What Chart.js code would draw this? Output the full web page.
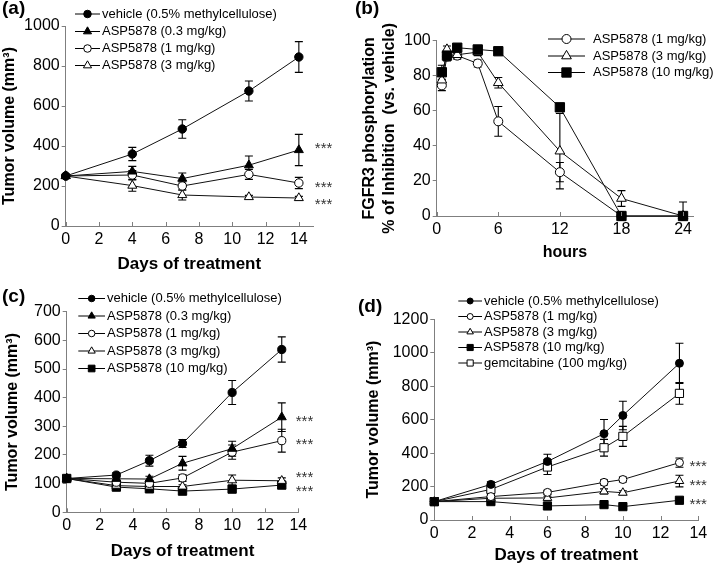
<!DOCTYPE html>
<html><head><meta charset="utf-8">
<script src="https://cdn.jsdelivr.net/npm/chart.js@4.4.0/dist/chart.umd.min.js"></script>
<style>
html,body{margin:0;padding:0;background:#fff;}
#wrap{position:relative;width:715px;height:566px;overflow:hidden;}
#wrap canvas{position:absolute;left:0;top:0;}
</style></head><body>
<div id="wrap">
<canvas id="ca" width="715" height="566"></canvas>
<canvas id="cb" width="715" height="566"></canvas>
<canvas id="cc" width="715" height="566"></canvas>
<canvas id="cd" width="715" height="566"></canvas>
</div>
<script>
// ---------------- Panel (a) data ----------------
const aDays = [0, 4, 7, 11, 14];
const aVehicle = [250, 360, 485, 675, 845];
const aVehicleErr = [0, 33, 46, 50, 77];
const aDose03 = [250, 273, 237, 304, 380];
const aDose03Err = [0, 25, 28, 46, 78];
const aDose1 = [250, 255, 200, 258, 215];
const aDose1Err = [0, 22, 20, 25, 28];
const aDose3 = [250, 202, 155, 145, 140];
const aDose3Err = [0, 28, 25, 8, 8];
const aXTicks = [0, 2, 4, 6, 8, 10, 12, 14];
const aYTicks = [0, 200, 400, 600, 800, 1000];

// ---------------- Panel (b) data ----------------
const bHours = [0.5, 1, 2, 4, 6, 12, 18, 24];
const bDose1 = [74.5, 91, 91.5, 87, 54, 25, 0, 0];
const bDose1Err = [3, 2, 2, 2, 8.5, 5.5, 0, 0];
const bDose3 = [77.5, 95, 92, 93.5, 76, 37, 10, 0];
const bDose3Err = [3, 2, 2, 2, 3, 21.5, 4.5, 0];
const bDose10 = [82, 91.5, 96, 95, 94, 62, 0, 0];
const bDose10Err = [4, 3, 1, 1, 1, 2, 0, 8];
const bXTicks = [0, 6, 12, 18, 24];
const bYTicks = [0, 20, 40, 60, 80, 100];

// ---------------- Panel (c) data ----------------
const cDays = [0, 3, 5, 7, 10, 13];
const cVehicle = [118, 130, 180, 240, 418, 568];
const cVehicleErr = [0, 8, 19, 14, 42, 44];
const cDose03 = [118, 117, 116, 171, 222, 332];
const cDose03Err = [0, 8, 10, 24, 26, 50];
const cDose1 = [118, 105, 101, 120, 210, 250];
const cDose1Err = [0, 8, 8, 12, 25, 40];
const cDose3 = [118, 93, 90, 90, 112, 110];
const cDose3Err = [0, 8, 6, 6, 18, 10];
const cDose10 = [118, 88, 82, 74, 81, 95];
const cDose10Err = [0, 8, 5, 6, 6, 5];
const cXTicks = [0, 2, 4, 6, 8, 10, 12, 14];
const cYTicks = [0, 100, 200, 300, 400, 500, 600, 700];

// ---------------- Panel (d) data ----------------
const dDays = [0, 3, 6, 9, 10, 13];
const dVehicle = [110, 213, 350, 516, 625, 937];
const dVehicleErr = [0, 15, 43, 85, 85, 120];
const dDose1 = [110, 140, 165, 225, 242, 343];
const dDose1Err = [0, 10, 12, 15, 15, 28];
const dDose3 = [110, 130, 132, 171, 163, 233];
const dDose3Err = [0, 10, 10, 15, 12, 35];
const dDose10 = [110, 110, 84, 92, 80, 118];
const dDose10Err = [0, 8, 8, 8, 8, 10];
const dGem = [110, 183, 317, 432, 500, 757];
const dGemErr = [0, 15, 45, 50, 60, 65];
const dXTicks = [0, 2, 4, 6, 8, 10, 12, 14];
const dYTicks = [0, 200, 400, 600, 800, 1000, 1200];

const LBL_VEH = 'vehicle (0.5% methylcellulose)';
const LBL_03 = 'ASP5878 (0.3 mg/kg)';
const LBL_1 = 'ASP5878 (1 mg/kg)';
const LBL_3 = 'ASP5878 (3 mg/kg)';
const LBL_10 = 'ASP5878 (10 mg/kg)';
const LBL_GEM = 'gemcitabine (100 mg/kg)';

// ---------------- styling / helpers ----------------
const FONT = '"Liberation Sans", Arial, Helvetica, sans-serif';
Chart.defaults.font.family = FONT;
const AXIS = '#7f7f7f';

function series(label, xs, ys, err, style, sizes, order) {
  const shape = {c: 'circle', t: 'triangle', s: 'rect'}[style[1]];
  const filled = style[0] === 'f';
  return {
    label, err, order: order || 0,
    data: xs.map((x, i) => ({x: x, y: ys[i]})),
    pointStyle: shape,
    pointRadius: sizes[shape], pointHoverRadius: sizes[shape],
    pointBackgroundColor: filled ? '#000' : '#fff',
    pointBorderColor: '#000', pointBorderWidth: 1,
    borderColor: '#111', borderWidth: 1, tension: 0, fill: false,
    showLine: true, clip: false
  };
}

function drawMarker(ctx, shape, filled, x, y, r) {
  ctx.beginPath();
  if (shape === 'circle') {
    ctx.arc(x, y, r, 0, Math.PI * 2);
  } else if (shape === 'triangle') {
    for (let k = 0; k < 3; k++) {
      const a = k * 2 * Math.PI / 3;
      const px = x + Math.sin(a) * r, py = y - Math.cos(a) * r;
      if (k === 0) ctx.moveTo(px, py); else ctx.lineTo(px, py);
    }
    ctx.closePath();
  } else {
    const s = r * Math.SQRT1_2;
    ctx.rect(x - s, y - s, 2 * s, 2 * s);
  }
  ctx.fillStyle = filled ? '#000' : '#fff';
  ctx.fill();
  ctx.lineWidth = 1; ctx.strokeStyle = '#000';
  ctx.stroke();
}

const figPlugin = {
  id: 'fig',
  beforeDatasetsDraw(chart) {
    const ctx = chart.ctx, xs = chart.scales.x, ys = chart.scales.y;
    ctx.save();
    ctx.strokeStyle = '#000'; ctx.lineWidth = 1.1;
    chart.data.datasets.forEach(ds => {
      if (!ds.err) return;
      ds.data.forEach((p, i) => {
        const e = ds.err[i];
        if (!e) return;
        const px = xs.getPixelForValue(p.x);
        const hi = ys.getPixelForValue(p.y + e);
        const loV = p.y - e;
        const lo = ys.getPixelForValue(Math.max(loV, ys.min));
        ctx.beginPath();
        ctx.moveTo(px, hi); ctx.lineTo(px, lo);
        ctx.moveTo(px - 4, hi); ctx.lineTo(px + 4, hi);
        if (loV >= ys.min) { ctx.moveTo(px - 4, lo); ctx.lineTo(px + 4, lo); }
        ctx.stroke();
      });
    });
    ctx.restore();
  },
  afterDraw(chart, args, o) {
    const ctx = chart.ctx, xs = chart.scales.x, ys = chart.scales.y;
    ctx.save();
    // inward x tick marks
    ctx.strokeStyle = AXIS; ctx.lineWidth = 1;
    ctx.beginPath();
    xs.ticks.forEach(t => {
      const px = Math.round(xs.getPixelForValue(t.value)) + 0.5;
      ctx.moveTo(px, xs.top); ctx.lineTo(px, xs.top - 4);
    });
    ctx.stroke();
    // significance stars
    if (o.stars) {
      ctx.fillStyle = '#333'; ctx.font = '15px ' + FONT;
      ctx.textBaseline = 'alphabetic'; ctx.textAlign = 'left';
      o.stars.items.forEach(s => {
        const ds = chart.data.datasets[s.ds];
        const last = ds.data[ds.data.length - 1];
        const px = xs.getPixelForValue(last.x) + o.stars.dx;
        const py = ys.getPixelForValue(last.y) + (s.dy || 0);
        ctx.fillText('***', px, py + 8.6);
      });
    }
    // legend
    const L = o.legend;
    ctx.font = '13px ' + FONT; ctx.fillStyle = '#000';
    ctx.textBaseline = 'middle'; ctx.textAlign = 'left';
    chart.data.datasets.forEach((ds, i) => {
      const y = L.rows[i];
      ctx.strokeStyle = '#000'; ctx.lineWidth = 1;
      ctx.beginPath(); ctx.moveTo(L.x0, y); ctx.lineTo(L.x1, y); ctx.stroke();
      drawMarker(ctx, ds.pointStyle, ds.pointBackgroundColor === '#000', (L.x0 + L.x1) / 2, y, ds.pointRadius * L.scale);
      ctx.fillStyle = '#000';
      ctx.fillText(ds.label, L.tx, y);
    });
    // panel label
    ctx.font = 'bold 19px ' + FONT; ctx.fillStyle = '#000';
    ctx.textBaseline = 'alphabetic';
    ctx.fillText(o.panel.text, o.panel.x, o.panel.y);
    ctx.restore();
  }
};

function makeChart(id, datasets, p) {
  const tickFont = {family: FONT, size: 16};
  return new Chart(document.getElementById(id), {
    type: 'line',
    data: {datasets},
    options: {
      responsive: false, animation: false, devicePixelRatio: 1,
      layout: {padding: {left: p.boxLeft, top: p.top, right: 715 - p.right, bottom: Math.max(0, 566 - p.bottom - p.xH)}},
      plugins: {legend: {display: false}, tooltip: {enabled: false}, fig: p.fig},
      scales: {
        x: {
          type: 'linear', min: 0, max: p.xMax,
          afterBuildTicks: s => { s.ticks = p.xTicks.map(v => ({value: v})); },
          afterFit: s => { s.height = p.xH; },
          grid: {display: false, drawTicks: false, tickLength: 0},
          border: {display: true, color: AXIS, width: 1},
          ticks: {font: tickFont, color: '#000', padding: 4, maxRotation: 0, autoSkip: false, callback: v => String(v)},
          title: {display: true, text: p.xTitle, color: '#000', padding: 0, font: {family: FONT, size: p.xTitleSize, weight: 'bold'}}
        },
        y: {
          type: 'linear', min: 0, max: p.yTicks[p.yTicks.length - 1],
          afterBuildTicks: s => { s.ticks = p.yTicks.map(v => ({value: v})); },
          afterFit: s => { s.width = p.right0 - p.boxLeft; },
          grid: {display: true, drawOnChartArea: false, drawTicks: true, tickLength: 4, color: AXIS},
          border: {display: true, color: AXIS, width: 1},
          ticks: {font: tickFont, color: '#000', padding: 2, autoSkip: false, callback: v => String(v)},
          title: {display: true, text: p.yTitle, color: '#000', padding: 0, font: {family: FONT, size: 16, weight: 'bold'}}
        }
      }
    },
    plugins: [figPlugin]
  });
}

// ---------- (a) ----------
const sizeA = {circle: 4.2, triangle: 5.2, rect: 5.8};
makeChart('ca', [
  series(LBL_VEH, aDays, aVehicle, aVehicleErr, 'fc', sizeA, 0),
  series(LBL_03, aDays, aDose03, aDose03Err, 'ft', sizeA, 1),
  series(LBL_1, aDays, aDose1, aDose1Err, 'oc', sizeA, 2),
  series(LBL_3, aDays, aDose3, aDose3Err, 'ot', sizeA, 3)
], {
  boxLeft: 0.4, right0: 65.7, top: 26, right: 313, bottom: 226, xH: 48.6,
  xMax: 14.85, xTicks: aXTicks, yTicks: aYTicks,
  xTitle: 'Days of treatment', xTitleSize: 17, yTitle: 'Tumor volume (mm³)',
  fig: {
    panel: {text: '(a)', x: 2, y: 14},
    legend: {x0: 75, x1: 100, tx: 102, rows: [14, 31.5, 48.5, 65.5], scale: 0.9},
    stars: {dx: 16, items: [{ds: 1, dy: -6}, {ds: 2, dy: 0}, {ds: 3, dy: 2}]}
  }
});

// ---------- (b) ----------
const sizeB = {circle: 4.5, triangle: 5.6, rect: 6.6};
makeChart('cb', [
  series(LBL_1, bHours, bDose1, bDose1Err, 'oc', sizeB, 2),
  series(LBL_3, bHours, bDose3, bDose3Err, 'ot', sizeB, 1),
  series(LBL_10, bHours, bDose10, bDose10Err, 'fs', sizeB, 0)
], {
  boxLeft: 360.4, right0: 436.7, top: 40.7, right: 693.3, bottom: 216, xH: 46.6,
  xMax: 25, xTicks: bXTicks, yTicks: bYTicks,
  xTitle: 'hours', xTitleSize: 16, yTitle: ['FGFR3 phosphorylation', '% of Inhibition  (vs. vehicle)'],
  fig: {
    panel: {text: '(b)', x: 355, y: 14},
    legend: {x0: 548, x1: 585, tx: 593, rows: [39, 56, 72.5], scale: 1}
  }
});

// ---------- (c) ----------
const sizeC = {circle: 4.1, triangle: 5.2, rect: 5.9};
makeChart('cc', [
  series(LBL_VEH, cDays, cVehicle, cVehicleErr, 'fc', sizeC, 0),
  series(LBL_03, cDays, cDose03, cDose03Err, 'ft', sizeC, 1),
  series(LBL_1, cDays, cDose1, cDose1Err, 'oc', sizeC, 2),
  series(LBL_3, cDays, cDose3, cDose3Err, 'ot', sizeC, 3),
  series(LBL_10, cDays, cDose10, cDose10Err, 'fs', sizeC, 4)
], {
  boxLeft: 3.4, right0: 66.7, top: 311.7, right: 298.3, bottom: 512.3, xH: 49,
  xMax: 14, xTicks: cXTicks, yTicks: cYTicks,
  xTitle: 'Days of treatment', xTitleSize: 17, yTitle: 'Tumor volume (mm³)',
  fig: {
    panel: {text: '(c)', x: 2, y: 302},
    legend: {x0: 78.3, x1: 105, tx: 107, rows: [298.5, 316, 333.5, 351, 368.5], scale: 0.8},
    stars: {dx: 14, items: [{ds: 1, dy: 0}, {ds: 2, dy: 0}, {ds: 3, dy: -7}, {ds: 4, dy: 2}]}
  }
});

// ---------- (d) ----------
const sizeD = {circle: 4.0, triangle: 5.0, rect: 5.8};
makeChart('cd', [
  series(LBL_VEH, dDays, dVehicle, dVehicleErr, 'fc', sizeD, 0),
  series(LBL_1, dDays, dDose1, dDose1Err, 'oc', sizeD, 1),
  series(LBL_3, dDays, dDose3, dDose3Err, 'ot', sizeD, 2),
  series(LBL_10, dDays, dDose10, dDose10Err, 'fs', sizeD, 3),
  series(LBL_GEM, dDays, dGem, dGemErr, 'os', sizeD, 4)
], {
  boxLeft: 364.4, right0: 434.3, top: 319.3, right: 698.3, bottom: 520, xH: 46,
  xMax: 14, xTicks: dXTicks, yTicks: dYTicks,
  xTitle: 'Days of treatment', xTitleSize: 17, yTitle: 'Tumor volume (mm³)',
  fig: {
    panel: {text: '(d)', x: 358, y: 312},
    legend: {x0: 458.3, x1: 482, tx: 484, rows: [301, 316.5, 332, 347.5, 363], scale: 0.75},
    stars: {dx: 10, items: [{ds: 1, dy: 0}, {ds: 2, dy: 0}, {ds: 3, dy: 0}]}
  }
});
</script>
</body></html>
